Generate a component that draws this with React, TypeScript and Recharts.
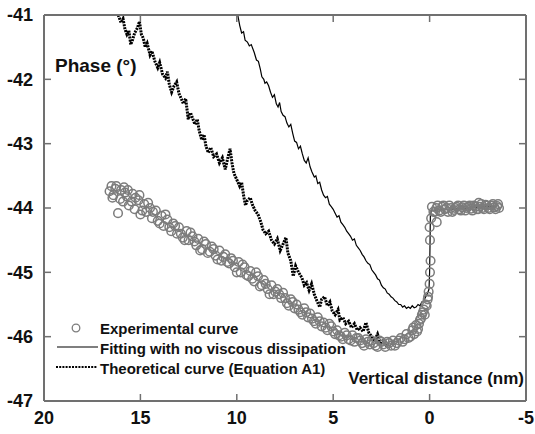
import React from 'react';
import {
  ComposedChart,
  Line,
  Scatter,
  XAxis,
  YAxis,
} from 'recharts';

// [vertical distance (nm), phase (deg)]
const experimentalPoints: [number, number][] = [
  [16.6, -43.74], [16.5, -43.66], [16.4, -43.8], [16.3, -43.7], [16.16, -44.08], [16.0, -43.72],
  [15.9, -43.9], [15.8, -43.76], [15.7, -43.82], [15.6, -43.96], [15.4, -43.78], [15.3, -44.02],
  [15.1, -43.88], [15.0, -44.1], [14.8, -43.94], [14.7, -44.06], [14.5, -44.0], [14.4, -44.16],
  [14.2, -44.04], [14.1, -44.2], [13.9, -44.12], [13.8, -44.28], [13.6, -44.18], [13.5, -44.3],
  [13.3, -44.24], [13.1, -44.4], [13.0, -44.3], [12.8, -44.46], [12.6, -44.36], [12.5, -44.5],
  [12.3, -44.44], [12.1, -44.58], [12.0, -44.48], [11.8, -44.64], [11.6, -44.56], [11.5, -44.7],
  [11.3, -44.6], [11.1, -44.74], [10.9, -44.66], [10.8, -44.82], [10.6, -44.72], [10.4, -44.86],
  [10.3, -44.78], [10.1, -44.92], [9.9, -44.84], [9.8, -45.0], [9.6, -44.92], [9.4, -45.06],
  [9.3, -44.98], [9.1, -45.14], [8.9, -45.06], [8.8, -45.22], [8.6, -45.12], [8.4, -45.26],
  [8.2, -45.2], [8.1, -45.34], [7.9, -45.26], [7.7, -45.4], [7.6, -45.32], [7.4, -45.48],
  [7.2, -45.42], [7.0, -45.56], [6.9, -45.5], [6.7, -45.62], [6.5, -45.56], [6.3, -45.7],
  [6.2, -45.64], [6.0, -45.76], [5.8, -45.7], [5.6, -45.84], [5.5, -45.78], [5.3, -45.9],
  [5.1, -45.84], [4.9, -45.96], [4.8, -45.9], [4.6, -46.0], [4.4, -45.94], [4.2, -46.04],
  [4.0, -45.98], [3.9, -46.08], [3.7, -46.02], [3.5, -46.1], [3.3, -46.04], [3.1, -46.12],
  [3.0, -46.06], [2.8, -46.14], [2.6, -46.06], [2.4, -46.12], [2.2, -46.08], [2.0, -46.14],
  [1.9, -46.06], [1.7, -46.1], [1.5, -46.02], [1.4, -46.08], [1.2, -45.96], [1.1, -46.02],
  [0.9, -45.9], [0.8, -45.96], [0.7, -45.82], [0.6, -45.88], [0.5, -45.74], [0.4, -45.66],
  [0.3, -45.58], [0.2, -45.5], [0.1, -45.42], [0.05, -45.3], [0.0, -45.18], [-0.02, -45.0],
  [-0.02, -44.5], [-0.08, -44.16], [-0.37, -44.22], [-0.2, -44.06], [-0.35, -44.0], [-0.5, -44.04],
  [-0.65, -43.98], [-0.8, -44.02], [-0.95, -44.06], [-1.1, -44.0], [-1.25, -44.03], [-1.4, -43.98],
  [-1.55, -44.02], [-1.7, -43.99], [-1.85, -44.04], [-2.0, -43.98], [-2.15, -44.01], [-2.3, -43.96],
  [-2.45, -44.02], [-2.55, -43.92], [-2.6, -43.98], [-2.75, -44.0], [-2.9, -43.95], [-3.05, -44.0],
  [-3.2, -43.96], [-3.35, -43.99], [-3.5, -43.97], [-3.6, -44.0],
];

// second pass of the measured curve, interleaved with the first
const experimentalPoints2: [number, number][] = [
  [16.45, -43.84], [16.25, -43.66], [16.05, -43.86], [15.85, -43.68], [15.65, -43.72], [15.45, -43.9],
  [15.25, -43.84], [15.05, -43.8], [14.9, -44.04], [14.6, -43.92], [14.35, -44.06], [14.0, -44.24],
  [13.7, -44.1], [13.4, -44.36], [13.2, -44.28], [12.9, -44.4], [12.7, -44.5], [12.4, -44.38],
  [12.2, -44.52], [11.9, -44.66], [11.7, -44.52], [11.4, -44.68], [11.2, -44.64], [11.0, -44.8],
  [10.7, -44.76], [10.5, -44.84], [10.2, -44.82], [10.0, -45.0], [9.7, -44.88], [9.5, -45.04],
  [9.2, -45.1], [9.0, -45.0], [8.7, -45.2], [8.5, -45.18], [8.3, -45.34], [8.0, -45.3],
  [7.8, -45.34], [7.5, -45.4], [7.3, -45.52], [7.1, -45.46], [6.8, -45.58], [6.6, -45.66],
  [6.4, -45.62], [6.1, -45.72], [5.9, -45.8], [5.7, -45.76], [5.4, -45.86], [5.2, -45.8],
  [5.0, -45.92], [4.7, -45.98], [4.5, -46.04], [4.3, -45.98], [4.1, -46.06], [3.8, -46.02],
  [3.6, -46.06], [3.4, -46.14], [3.2, -46.08], [2.9, -46.1], [2.7, -46.16], [2.5, -46.08],
  [2.3, -46.16], [2.1, -46.1], [1.8, -46.14], [1.6, -46.06], [1.3, -46.04], [1.0, -46.0],
  [0.85, -45.86], [0.65, -45.92], [0.55, -45.8], [0.45, -45.72], [0.35, -45.62], [0.25, -45.66],
  [0.15, -45.52], [0.08, -45.38], [-0.05, -44.82], [0.0, -44.3], [-0.12, -43.98], [-0.28, -44.06],
  [-0.42, -43.96], [-0.58, -44.06], [-0.72, -43.96], [-0.88, -44.0], [-1.02, -43.96], [-1.18, -44.06],
  [-1.32, -44.0], [-1.48, -43.96], [-1.62, -44.04], [-1.78, -43.96], [-1.92, -44.0], [-2.08, -43.96],
  [-2.22, -44.04], [-2.38, -43.98], [-2.52, -44.02], [-2.68, -43.94], [-2.82, -44.02], [-2.98, -43.96],
  [-3.12, -44.02], [-3.28, -43.94], [-3.42, -44.02], [-3.55, -43.94],
];

const fittingPoints: [number, number][] = [
  [9.95, -41.0], [9.85, -41.16], [9.75, -41.28], [9.65, -41.26], [9.57, -41.39], [9.45, -41.42],
  [9.35, -41.48], [9.25, -41.46], [9.1, -41.58], [8.98, -41.7], [8.88, -41.72], [8.78, -41.84],
  [8.7, -41.96], [8.6, -42.0], [8.54, -42.06], [8.45, -42.04], [8.35, -42.1], [8.25, -42.2],
  [8.15, -42.28], [8.05, -42.24], [7.95, -42.38], [7.86, -42.43], [7.78, -42.36], [7.7, -42.5],
  [7.6, -42.56], [7.5, -42.58], [7.4, -42.68], [7.3, -42.74], [7.2, -42.7], [7.1, -42.84],
  [7.0, -42.96], [6.9, -42.98], [6.8, -43.08], [6.7, -43.04], [6.6, -43.16], [6.5, -43.26],
  [6.4, -43.3], [6.3, -43.22], [6.2, -43.36], [6.1, -43.44], [5.98, -43.52], [5.9, -43.5],
  [5.8, -43.62], [5.7, -43.6], [5.6, -43.72], [5.5, -43.8], [5.4, -43.84], [5.3, -43.82],
  [5.2, -43.94], [5.1, -43.98], [5.0, -44.02], [4.9, -44.08], [4.8, -44.14], [4.7, -44.12],
  [4.6, -44.22], [4.5, -44.26], [4.4, -44.3], [4.3, -44.36], [4.2, -44.4], [4.1, -44.44],
  [4.0, -44.5], [3.9, -44.48], [3.8, -44.58], [3.7, -44.62], [3.6, -44.66], [3.5, -44.72],
  [3.4, -44.76], [3.3, -44.82], [3.2, -44.86], [3.1, -44.88], [3.0, -44.96], [2.9, -45.0],
  [2.8, -45.04], [2.7, -45.1], [2.6, -45.12], [2.5, -45.2], [2.4, -45.24], [2.3, -45.26],
  [2.2, -45.32], [2.1, -45.34], [2.0, -45.38], [1.9, -45.4], [1.8, -45.44], [1.7, -45.46],
  [1.6, -45.5], [1.5, -45.5], [1.4, -45.54], [1.3, -45.52], [1.2, -45.56], [1.1, -45.54],
  [1.0, -45.56], [0.9, -45.52], [0.8, -45.55], [0.7, -45.54], [0.6, -45.5], [0.5, -45.52],
  [0.4, -45.46], [0.3, -45.44], [0.2, -45.38], [0.1, -45.32], [0.03, -45.26], [0.0, -45.0],
  [-0.02, -44.6], [-0.04, -44.1], [-0.1, -44.04], [-0.5, -44.02], [-1.0, -44.02], [-2.0, -44.0],
  [-3.0, -43.98], [-3.5, -43.98],
];

const theoreticalPoints: [number, number][] = [
  [16.15, -41.0], [16.0, -41.12], [15.9, -41.06], [15.8, -41.22], [15.7, -41.3], [15.6, -41.24],
  [15.5, -41.46], [15.4, -41.38], [15.3, -41.28], [15.15, -41.2], [15.05, -41.1], [14.95, -41.3],
  [14.85, -41.36], [14.75, -41.5], [14.65, -41.44], [14.5, -41.62], [14.4, -41.56], [14.25, -41.72],
  [14.1, -41.82], [14.0, -41.74], [13.85, -41.92], [13.7, -41.98], [13.6, -41.88], [13.5, -42.08],
  [13.38, -42.2], [13.25, -42.1], [13.12, -42.04], [13.0, -42.22], [12.88, -42.3], [12.77, -42.38],
  [12.65, -42.3], [12.52, -42.62], [12.4, -42.52], [12.3, -42.6], [12.17, -42.7], [12.05, -42.62],
  [11.95, -42.8], [11.82, -42.94], [11.7, -42.86], [11.6, -43.04], [11.48, -43.14], [11.35, -43.06],
  [11.2, -43.2], [11.05, -43.16], [10.9, -43.3], [10.75, -43.22], [10.6, -43.4], [10.45, -43.2],
  [10.35, -43.08], [10.25, -43.3], [10.15, -43.46], [10.0, -43.56], [9.85, -43.66], [9.75, -43.6],
  [9.65, -43.8], [9.55, -43.96], [9.45, -43.88], [9.3, -43.84], [9.2, -43.94], [9.05, -44.04],
  [8.9, -44.1], [8.75, -44.22], [8.64, -44.34], [8.5, -44.4], [8.35, -44.36], [8.2, -44.5],
  [8.05, -44.56], [7.9, -44.48], [7.75, -44.66], [7.6, -44.56], [7.45, -44.46], [7.35, -44.7],
  [7.2, -44.82], [7.07, -45.06], [6.95, -44.9], [6.8, -45.0], [6.63, -45.08], [6.5, -45.2],
  [6.38, -45.16], [6.25, -45.28], [6.12, -45.18], [5.98, -45.34], [5.85, -45.44], [5.7, -45.54],
  [5.6, -45.42], [5.45, -45.38], [5.3, -45.52], [5.17, -45.46], [5.05, -45.6], [4.9, -45.66],
  [4.75, -45.58], [4.65, -45.74], [4.5, -45.7], [4.35, -45.8], [4.2, -45.76], [4.05, -45.86],
  [3.9, -45.8], [3.75, -45.9], [3.61, -45.86], [3.45, -45.92], [3.3, -45.78], [3.15, -45.94],
  [3.0, -46.0], [2.85, -46.06], [2.7, -45.96], [2.55, -46.1], [2.4, -46.06], [2.25, -46.14],
  [2.1, -46.12],
];

const xTicks = [20, 15, 10, 5, 0, -5];
const yTicks = [-47, -46, -45, -44, -43, -42, -41];

const legendLabels = [
  'Experimental curve',
  'Fitting with no viscous dissipation',
  'Theoretical curve (Equation A1)',
];

const FONT = '"Liberation Sans", Arial, sans-serif';
const AXIS_COLOR = '#707070';
const CIRCLE_COLOR = '#7c7c7c';

const toRows = (pts: [number, number][]) => pts.map(([x, y]) => ({ x, y }));

const OpenCircle = (props: any) => {
  const { cx, cy } = props;
  if (cx == null || cy == null) return null;
  return <circle cx={cx} cy={cy} r={4.3} fill="none" stroke={CIRCLE_COLOR} strokeWidth={1.5} />;
};

// bold tick labels
const BoldTick = (props: any) => {
  const { x, y, payload, textAnchor, verticalAnchor } = props;
  const dy = verticalAnchor === 'start' ? '0.71em' : '0.355em';
  return (
    <text
      x={x}
      y={y}
      dy={dy}
      textAnchor={textAnchor}
      fontSize={18}
      fontWeight={700}
      fontFamily={FONT}
      fill="#111"
    >
      {payload.value}
    </text>
  );
};

export default function App() {
  const experimental = toRows([...experimentalPoints, ...experimentalPoints2]);
  const fitting = toRows(fittingPoints);
  const theoretical = toRows(theoreticalPoints);

  return (
    <div style={{ position: 'absolute', left: 0, top: 0, background: '#fff' }}>
      <ComposedChart
        width={535}
        height={434}
        margin={{ top: 14, right: 0, bottom: 0, left: 0 }}
      >
        <XAxis
          dataKey="x"
          type="number"
          domain={[-5, 20]}
          reversed
          ticks={xTicks}
          allowDataOverflow
          height={33}
          tickSize={-7}
          tickMargin={17}
          tick={BoldTick}
          axisLine={{ stroke: AXIS_COLOR, strokeWidth: 2 }}
          tickLine={{ stroke: AXIS_COLOR, strokeWidth: 1.5 }}
        />
        <XAxis
          xAxisId="top"
          orientation="top"
          dataKey="x"
          type="number"
          domain={[-5, 20]}
          reversed
          ticks={xTicks}
          allowDataOverflow
          height={1}
          tickSize={-7}
          tickFormatter={() => ''}
          axisLine={{ stroke: AXIS_COLOR, strokeWidth: 2 }}
          tickLine={{ stroke: AXIS_COLOR, strokeWidth: 1.5 }}
        />
        <YAxis
          type="number"
          domain={[-47, -41]}
          ticks={yTicks}
          allowDataOverflow
          width={44}
          tickSize={-7}
          tickMargin={18}
          tick={BoldTick}
          axisLine={{ stroke: AXIS_COLOR, strokeWidth: 2 }}
          tickLine={{ stroke: AXIS_COLOR, strokeWidth: 1.5 }}
        />
        <YAxis
          yAxisId="right"
          orientation="right"
          type="number"
          domain={[-47, -41]}
          ticks={yTicks}
          allowDataOverflow
          width={9}
          tickSize={-7}
          tickFormatter={() => ''}
          axisLine={{ stroke: AXIS_COLOR, strokeWidth: 2 }}
          tickLine={{ stroke: AXIS_COLOR, strokeWidth: 1.5 }}
        />

        <Scatter
          name="Experimental curve"
          data={experimental}
          dataKey="y"
          shape={OpenCircle}
          isAnimationActive={false}
        />
        <Line
          name="Fitting with no viscous dissipation"
          data={fitting}
          dataKey="y"
          type="linear"
          stroke="#000"
          strokeWidth={1.2}
          dot={false}
          activeDot={false}
          isAnimationActive={false}
        />
        {/* drawn against the top/right axes (same domains) so that frame is rendered too */}
        <Line
          name="Theoretical curve (Equation A1)"
          data={theoretical}
          dataKey="y"
          xAxisId="top"
          yAxisId="right"
          type="linear"
          stroke="#000"
          strokeWidth={3}
          strokeDasharray="2 1"
          dot={false}
          activeDot={false}
          isAnimationActive={false}
        />

        <text x={55} y={72} fontSize={19} fontWeight="bold" fontFamily={FONT} fill="#111">
          Phase (°)
        </text>
        <text x={524} y={384} textAnchor="end" fontSize={17} fontWeight="bold" fontFamily={FONT} fill="#111">
          Vertical distance (nm)
        </text>

        <g>
          <circle cx={76} cy={328} r={3.8} fill="none" stroke={CIRCLE_COLOR} strokeWidth={1.3} />
          <line x1={57} x2={98} y1={347} y2={347} stroke="#555" strokeWidth={1.5} />
          <line x1={56} x2={97} y1={367} y2={367} stroke="#000" strokeWidth={2} strokeDasharray="2 1.2" />
          {legendLabels.map((label, i) => (
            <text
              key={label}
              x={100}
              y={334 + i * 20}
              fontSize={15}
              fontWeight="bold"
              fontFamily={FONT}
              fill="#111"
            >
              {label}
            </text>
          ))}
        </g>
      </ComposedChart>
    </div>
  );
}
